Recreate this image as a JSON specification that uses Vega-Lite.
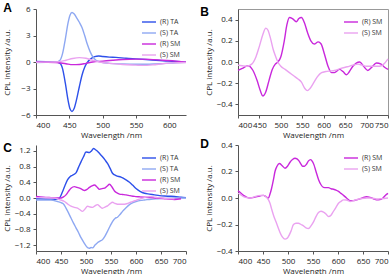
{
  "$schema": "https://vega.github.io/schema/vega-lite/v6.json",
  "background": "white",
  "padding": {"left": 3, "top": 2, "right": 0, "bottom": 1},
  "config": {
    "view": {"stroke": null},
    "axis": {"labelFontSize": 8, "titleFontSize": 8, "labelFont": "Open Sans", "titleFont": "Open Sans", "titleFontWeight": "normal", "domainColor": "#555", "tickColor": "#555", "tickSize": 3, "grid": false, "labelColor": "#222", "titleColor": "#222"},
    "axisX": {"titlePadding": 2, "labelPadding": 3},
    "axisY": {"titlePadding": 3, "labelPadding": 3},
    "legend": {"orient": "top-right", "offset": 5, "labelFontSize": 7, "labelFont": "Open Sans", "labelColor": "#333", "symbolType": "stroke", "symbolSize": 196, "symbolStrokeWidth": 1.5, "rowPadding": -6, "padding": 0, "labelOffset": 3},
    "title": {"anchor": "start", "frame": "bounds", "fontSize": 12, "fontWeight": "bold", "font": "Liberation Sans", "offset": -10, "color": "#000"},
    "line": {"strokeWidth": 1.4, "interpolate": "monotone"}
  },
  "datasets": {
    "A": [
      {"s": "(R) TA", "x": 400, "y": 0.05}, {"s": "(R) TA", "x": 420, "y": 0.02}, {"s": "(R) TA", "x": 430, "y": 0}, {"s": "(R) TA", "x": 436, "y": -0.15}, {"s": "(R) TA", "x": 440, "y": -0.8}, {"s": "(R) TA", "x": 444, "y": -2.4}, {"s": "(R) TA", "x": 448, "y": -4.3}, {"s": "(R) TA", "x": 451, "y": -5.3}, {"s": "(R) TA", "x": 454, "y": -5.6}, {"s": "(R) TA", "x": 457, "y": -5.3}, {"s": "(R) TA", "x": 461, "y": -4.2}, {"s": "(R) TA", "x": 465, "y": -2.8}, {"s": "(R) TA", "x": 469, "y": -1.5}, {"s": "(R) TA", "x": 473, "y": -0.6}, {"s": "(R) TA", "x": 477, "y": -0.05}, {"s": "(R) TA", "x": 482, "y": 0.35}, {"s": "(R) TA", "x": 488, "y": 0.6}, {"s": "(R) TA", "x": 494, "y": 0.68}, {"s": "(R) TA", "x": 500, "y": 0.62}, {"s": "(R) TA", "x": 510, "y": 0.55}, {"s": "(R) TA", "x": 520, "y": 0.52}, {"s": "(R) TA", "x": 535, "y": 0.42}, {"s": "(R) TA", "x": 550, "y": 0.35}, {"s": "(R) TA", "x": 565, "y": 0.28}, {"s": "(R) TA", "x": 580, "y": 0.2}, {"s": "(R) TA", "x": 595, "y": 0.12}, {"s": "(R) TA", "x": 610, "y": 0.05}, {"s": "(R) TA", "x": 625, "y": 0},
      {"s": "(S) TA", "x": 400, "y": -0.05}, {"s": "(S) TA", "x": 420, "y": -0.02}, {"s": "(S) TA", "x": 430, "y": 0}, {"s": "(S) TA", "x": 436, "y": 0.2}, {"s": "(S) TA", "x": 440, "y": 1.0}, {"s": "(S) TA", "x": 444, "y": 2.6}, {"s": "(S) TA", "x": 448, "y": 4.4}, {"s": "(S) TA", "x": 451, "y": 5.3}, {"s": "(S) TA", "x": 454, "y": 5.6}, {"s": "(S) TA", "x": 457, "y": 5.45}, {"s": "(S) TA", "x": 461, "y": 5.0}, {"s": "(S) TA", "x": 465, "y": 4.5}, {"s": "(S) TA", "x": 469, "y": 3.9}, {"s": "(S) TA", "x": 473, "y": 3.0}, {"s": "(S) TA", "x": 477, "y": 2.0}, {"s": "(S) TA", "x": 481, "y": 1.2}, {"s": "(S) TA", "x": 485, "y": 0.6}, {"s": "(S) TA", "x": 490, "y": 0.2}, {"s": "(S) TA", "x": 497, "y": 0}, {"s": "(S) TA", "x": 510, "y": -0.15}, {"s": "(S) TA", "x": 530, "y": -0.22}, {"s": "(S) TA", "x": 550, "y": -0.25}, {"s": "(S) TA", "x": 570, "y": -0.25}, {"s": "(S) TA", "x": 590, "y": -0.18}, {"s": "(S) TA", "x": 610, "y": -0.08}, {"s": "(S) TA", "x": 625, "y": -0.03},
      {"s": "(R) SM", "x": 400, "y": 0}, {"s": "(R) SM", "x": 430, "y": -0.05}, {"s": "(R) SM", "x": 445, "y": -0.2}, {"s": "(R) SM", "x": 455, "y": -0.3}, {"s": "(R) SM", "x": 465, "y": -0.28}, {"s": "(R) SM", "x": 475, "y": -0.15}, {"s": "(R) SM", "x": 485, "y": 0}, {"s": "(R) SM", "x": 500, "y": 0.1}, {"s": "(R) SM", "x": 515, "y": 0.2}, {"s": "(R) SM", "x": 530, "y": 0.28}, {"s": "(R) SM", "x": 550, "y": 0.32}, {"s": "(R) SM", "x": 570, "y": 0.3}, {"s": "(R) SM", "x": 590, "y": 0.2}, {"s": "(R) SM", "x": 610, "y": 0.1}, {"s": "(R) SM", "x": 625, "y": 0},
      {"s": "(S) SM", "x": 400, "y": -0.02}, {"s": "(S) SM", "x": 430, "y": 0}, {"s": "(S) SM", "x": 445, "y": 0.2}, {"s": "(S) SM", "x": 455, "y": 0.4}, {"s": "(S) SM", "x": 465, "y": 0.5}, {"s": "(S) SM", "x": 475, "y": 0.42}, {"s": "(S) SM", "x": 485, "y": 0.2}, {"s": "(S) SM", "x": 495, "y": 0}, {"s": "(S) SM", "x": 510, "y": -0.15}, {"s": "(S) SM", "x": 530, "y": -0.28}, {"s": "(S) SM", "x": 550, "y": -0.35}, {"s": "(S) SM", "x": 560, "y": -0.38}, {"s": "(S) SM", "x": 575, "y": -0.32}, {"s": "(S) SM", "x": 590, "y": -0.2}, {"s": "(S) SM", "x": 605, "y": -0.1}, {"s": "(S) SM", "x": 625, "y": -0.05}
    ],
    "B": [
      {"s": "(R) SM", "x": 400, "y": -0.08}, {"s": "(R) SM", "x": 410, "y": -0.06}, {"s": "(R) SM", "x": 423, "y": -0.035}, {"s": "(R) SM", "x": 435, "y": -0.08}, {"s": "(R) SM", "x": 445, "y": -0.18}, {"s": "(R) SM", "x": 452, "y": -0.27}, {"s": "(R) SM", "x": 458, "y": -0.32}, {"s": "(R) SM", "x": 465, "y": -0.28}, {"s": "(R) SM", "x": 472, "y": -0.18}, {"s": "(R) SM", "x": 480, "y": -0.07}, {"s": "(R) SM", "x": 487, "y": -0.02}, {"s": "(R) SM", "x": 493, "y": 0}, {"s": "(R) SM", "x": 500, "y": 0.05}, {"s": "(R) SM", "x": 508, "y": 0.2}, {"s": "(R) SM", "x": 514, "y": 0.35}, {"s": "(R) SM", "x": 520, "y": 0.42}, {"s": "(R) SM", "x": 527, "y": 0.41}, {"s": "(R) SM", "x": 536, "y": 0.38}, {"s": "(R) SM", "x": 542, "y": 0.41}, {"s": "(R) SM", "x": 548, "y": 0.42}, {"s": "(R) SM", "x": 555, "y": 0.37}, {"s": "(R) SM", "x": 562, "y": 0.28}, {"s": "(R) SM", "x": 570, "y": 0.2}, {"s": "(R) SM", "x": 578, "y": 0.17}, {"s": "(R) SM", "x": 587, "y": 0.19}, {"s": "(R) SM", "x": 594, "y": 0.17}, {"s": "(R) SM", "x": 602, "y": 0.07}, {"s": "(R) SM", "x": 610, "y": -0.04}, {"s": "(R) SM", "x": 618, "y": -0.1}, {"s": "(R) SM", "x": 625, "y": -0.1}, {"s": "(R) SM", "x": 637, "y": -0.07}, {"s": "(R) SM", "x": 645, "y": -0.09}, {"s": "(R) SM", "x": 653, "y": -0.12}, {"s": "(R) SM", "x": 660, "y": -0.09}, {"s": "(R) SM", "x": 668, "y": -0.04}, {"s": "(R) SM", "x": 676, "y": -0.01}, {"s": "(R) SM", "x": 684, "y": 0}, {"s": "(R) SM", "x": 693, "y": -0.04}, {"s": "(R) SM", "x": 703, "y": -0.08}, {"s": "(R) SM", "x": 712, "y": -0.05}, {"s": "(R) SM", "x": 723, "y": -0.01}, {"s": "(R) SM", "x": 734, "y": -0.02}, {"s": "(R) SM", "x": 742, "y": -0.05}, {"s": "(R) SM", "x": 750, "y": -0.07},
      {"s": "(S) SM", "x": 400, "y": -0.03}, {"s": "(S) SM", "x": 410, "y": -0.035}, {"s": "(S) SM", "x": 420, "y": -0.04}, {"s": "(S) SM", "x": 432, "y": -0.02}, {"s": "(S) SM", "x": 442, "y": 0.05}, {"s": "(S) SM", "x": 450, "y": 0.15}, {"s": "(S) SM", "x": 458, "y": 0.26}, {"s": "(S) SM", "x": 465, "y": 0.32}, {"s": "(S) SM", "x": 470, "y": 0.3}, {"s": "(S) SM", "x": 476, "y": 0.22}, {"s": "(S) SM", "x": 482, "y": 0.12}, {"s": "(S) SM", "x": 488, "y": 0.05}, {"s": "(S) SM", "x": 493, "y": 0}, {"s": "(S) SM", "x": 500, "y": -0.04}, {"s": "(S) SM", "x": 510, "y": -0.07}, {"s": "(S) SM", "x": 520, "y": -0.1}, {"s": "(S) SM", "x": 530, "y": -0.13}, {"s": "(S) SM", "x": 540, "y": -0.16}, {"s": "(S) SM", "x": 548, "y": -0.19}, {"s": "(S) SM", "x": 556, "y": -0.25}, {"s": "(S) SM", "x": 562, "y": -0.27}, {"s": "(S) SM", "x": 568, "y": -0.25}, {"s": "(S) SM", "x": 576, "y": -0.2}, {"s": "(S) SM", "x": 585, "y": -0.14}, {"s": "(S) SM", "x": 595, "y": -0.1}, {"s": "(S) SM", "x": 605, "y": -0.09}, {"s": "(S) SM", "x": 615, "y": -0.085}, {"s": "(S) SM", "x": 625, "y": -0.08}, {"s": "(S) SM", "x": 640, "y": -0.06}, {"s": "(S) SM", "x": 655, "y": -0.045}, {"s": "(S) SM", "x": 668, "y": -0.03}, {"s": "(S) SM", "x": 680, "y": -0.02}, {"s": "(S) SM", "x": 690, "y": -0.03}, {"s": "(S) SM", "x": 700, "y": -0.04}, {"s": "(S) SM", "x": 715, "y": -0.04}, {"s": "(S) SM", "x": 730, "y": -0.04}, {"s": "(S) SM", "x": 740, "y": -0.02}, {"s": "(S) SM", "x": 750, "y": 0.03}
    ],
    "C": [
      {"s": "(R) TA", "x": 400, "y": -0.02}, {"s": "(R) TA", "x": 420, "y": -0.03}, {"s": "(R) TA", "x": 440, "y": -0.03}, {"s": "(R) TA", "x": 447, "y": 0}, {"s": "(R) TA", "x": 453, "y": 0.16}, {"s": "(R) TA", "x": 458, "y": 0.32}, {"s": "(R) TA", "x": 463, "y": 0.46}, {"s": "(R) TA", "x": 468, "y": 0.54}, {"s": "(R) TA", "x": 473, "y": 0.58}, {"s": "(R) TA", "x": 480, "y": 0.64}, {"s": "(R) TA", "x": 485, "y": 0.78}, {"s": "(R) TA", "x": 490, "y": 0.92}, {"s": "(R) TA", "x": 495, "y": 1.05}, {"s": "(R) TA", "x": 500, "y": 1.17}, {"s": "(R) TA", "x": 507, "y": 1.16}, {"s": "(R) TA", "x": 511, "y": 1.2}, {"s": "(R) TA", "x": 515, "y": 1.26}, {"s": "(R) TA", "x": 519, "y": 1.23}, {"s": "(R) TA", "x": 523, "y": 1.19}, {"s": "(R) TA", "x": 528, "y": 1.12}, {"s": "(R) TA", "x": 533, "y": 1.05}, {"s": "(R) TA", "x": 538, "y": 0.97}, {"s": "(R) TA", "x": 543, "y": 0.88}, {"s": "(R) TA", "x": 548, "y": 0.76}, {"s": "(R) TA", "x": 553, "y": 0.63}, {"s": "(R) TA", "x": 560, "y": 0.57}, {"s": "(R) TA", "x": 570, "y": 0.53}, {"s": "(R) TA", "x": 580, "y": 0.46}, {"s": "(R) TA", "x": 587, "y": 0.4}, {"s": "(R) TA", "x": 593, "y": 0.33}, {"s": "(R) TA", "x": 600, "y": 0.24}, {"s": "(R) TA", "x": 608, "y": 0.17}, {"s": "(R) TA", "x": 617, "y": 0.12}, {"s": "(R) TA", "x": 627, "y": 0.1}, {"s": "(R) TA", "x": 637, "y": 0.08}, {"s": "(R) TA", "x": 647, "y": 0.06}, {"s": "(R) TA", "x": 657, "y": 0.05}, {"s": "(R) TA", "x": 667, "y": 0.045}, {"s": "(R) TA", "x": 677, "y": 0.04}, {"s": "(R) TA", "x": 690, "y": 0.02}, {"s": "(R) TA", "x": 700, "y": 0.01},
      {"s": "(S) TA", "x": 400, "y": -0.05}, {"s": "(S) TA", "x": 420, "y": -0.05}, {"s": "(S) TA", "x": 430, "y": -0.05}, {"s": "(S) TA", "x": 443, "y": -0.09}, {"s": "(S) TA", "x": 450, "y": -0.12}, {"s": "(S) TA", "x": 455, "y": -0.15}, {"s": "(S) TA", "x": 460, "y": -0.26}, {"s": "(S) TA", "x": 465, "y": -0.38}, {"s": "(S) TA", "x": 470, "y": -0.51}, {"s": "(S) TA", "x": 475, "y": -0.64}, {"s": "(S) TA", "x": 480, "y": -0.76}, {"s": "(S) TA", "x": 485, "y": -0.88}, {"s": "(S) TA", "x": 490, "y": -1.01}, {"s": "(S) TA", "x": 495, "y": -1.12}, {"s": "(S) TA", "x": 500, "y": -1.22}, {"s": "(S) TA", "x": 504, "y": -1.27}, {"s": "(S) TA", "x": 507, "y": -1.28}, {"s": "(S) TA", "x": 510, "y": -1.26}, {"s": "(S) TA", "x": 513, "y": -1.27}, {"s": "(S) TA", "x": 518, "y": -1.2}, {"s": "(S) TA", "x": 523, "y": -1.14}, {"s": "(S) TA", "x": 528, "y": -1.1}, {"s": "(S) TA", "x": 533, "y": -1.06}, {"s": "(S) TA", "x": 538, "y": -0.97}, {"s": "(S) TA", "x": 543, "y": -0.85}, {"s": "(S) TA", "x": 548, "y": -0.72}, {"s": "(S) TA", "x": 553, "y": -0.6}, {"s": "(S) TA", "x": 558, "y": -0.52}, {"s": "(S) TA", "x": 563, "y": -0.49}, {"s": "(S) TA", "x": 568, "y": -0.42}, {"s": "(S) TA", "x": 573, "y": -0.34}, {"s": "(S) TA", "x": 580, "y": -0.25}, {"s": "(S) TA", "x": 587, "y": -0.17}, {"s": "(S) TA", "x": 594, "y": -0.12}, {"s": "(S) TA", "x": 600, "y": -0.09}, {"s": "(S) TA", "x": 610, "y": -0.06}, {"s": "(S) TA", "x": 617, "y": -0.05}, {"s": "(S) TA", "x": 630, "y": -0.03}, {"s": "(S) TA", "x": 643, "y": -0.02}, {"s": "(S) TA", "x": 660, "y": -0.01}, {"s": "(S) TA", "x": 680, "y": 0}, {"s": "(S) TA", "x": 700, "y": 0},
      {"s": "(R) SM", "x": 400, "y": 0.04}, {"s": "(R) SM", "x": 415, "y": 0.02}, {"s": "(R) SM", "x": 430, "y": 0.01}, {"s": "(R) SM", "x": 450, "y": 0}, {"s": "(R) SM", "x": 455, "y": 0.03}, {"s": "(R) SM", "x": 460, "y": 0.08}, {"s": "(R) SM", "x": 465, "y": 0.17}, {"s": "(R) SM", "x": 470, "y": 0.25}, {"s": "(R) SM", "x": 477, "y": 0.29}, {"s": "(R) SM", "x": 482, "y": 0.27}, {"s": "(R) SM", "x": 487, "y": 0.25}, {"s": "(R) SM", "x": 492, "y": 0.22}, {"s": "(R) SM", "x": 497, "y": 0.19}, {"s": "(R) SM", "x": 502, "y": 0.22}, {"s": "(R) SM", "x": 507, "y": 0.27}, {"s": "(R) SM", "x": 512, "y": 0.31}, {"s": "(R) SM", "x": 517, "y": 0.33}, {"s": "(R) SM", "x": 522, "y": 0.28}, {"s": "(R) SM", "x": 527, "y": 0.22}, {"s": "(R) SM", "x": 532, "y": 0.24}, {"s": "(R) SM", "x": 537, "y": 0.25}, {"s": "(R) SM", "x": 542, "y": 0.3}, {"s": "(R) SM", "x": 547, "y": 0.35}, {"s": "(R) SM", "x": 552, "y": 0.28}, {"s": "(R) SM", "x": 557, "y": 0.18}, {"s": "(R) SM", "x": 562, "y": 0.13}, {"s": "(R) SM", "x": 567, "y": 0.1}, {"s": "(R) SM", "x": 573, "y": 0.09}, {"s": "(R) SM", "x": 580, "y": 0.08}, {"s": "(R) SM", "x": 588, "y": 0.06}, {"s": "(R) SM", "x": 597, "y": 0.04}, {"s": "(R) SM", "x": 607, "y": 0.03}, {"s": "(R) SM", "x": 617, "y": 0.02}, {"s": "(R) SM", "x": 630, "y": 0.01}, {"s": "(R) SM", "x": 643, "y": 0}, {"s": "(R) SM", "x": 660, "y": -0.02}, {"s": "(R) SM", "x": 677, "y": -0.04}, {"s": "(R) SM", "x": 690, "y": -0.02},
      {"s": "(S) SM", "x": 400, "y": 0.01}, {"s": "(S) SM", "x": 420, "y": 0.01}, {"s": "(S) SM", "x": 437, "y": 0}, {"s": "(S) SM", "x": 447, "y": -0.04}, {"s": "(S) SM", "x": 457, "y": -0.09}, {"s": "(S) SM", "x": 463, "y": -0.15}, {"s": "(S) SM", "x": 470, "y": -0.21}, {"s": "(S) SM", "x": 477, "y": -0.24}, {"s": "(S) SM", "x": 483, "y": -0.26}, {"s": "(S) SM", "x": 488, "y": -0.3}, {"s": "(S) SM", "x": 493, "y": -0.34}, {"s": "(S) SM", "x": 498, "y": -0.28}, {"s": "(S) SM", "x": 503, "y": -0.21}, {"s": "(S) SM", "x": 508, "y": -0.23}, {"s": "(S) SM", "x": 513, "y": -0.24}, {"s": "(S) SM", "x": 518, "y": -0.2}, {"s": "(S) SM", "x": 523, "y": -0.17}, {"s": "(S) SM", "x": 528, "y": -0.22}, {"s": "(S) SM", "x": 533, "y": -0.26}, {"s": "(S) SM", "x": 538, "y": -0.23}, {"s": "(S) SM", "x": 543, "y": -0.2}, {"s": "(S) SM", "x": 548, "y": -0.15}, {"s": "(S) SM", "x": 553, "y": -0.11}, {"s": "(S) SM", "x": 558, "y": -0.14}, {"s": "(S) SM", "x": 563, "y": -0.16}, {"s": "(S) SM", "x": 570, "y": -0.16}, {"s": "(S) SM", "x": 577, "y": -0.16}, {"s": "(S) SM", "x": 585, "y": -0.13}, {"s": "(S) SM", "x": 593, "y": -0.09}, {"s": "(S) SM", "x": 600, "y": -0.06}, {"s": "(S) SM", "x": 607, "y": -0.03}, {"s": "(S) SM", "x": 617, "y": 0.01}, {"s": "(S) SM", "x": 627, "y": 0.04}, {"s": "(S) SM", "x": 635, "y": 0.03}, {"s": "(S) SM", "x": 643, "y": 0.01}, {"s": "(S) SM", "x": 660, "y": -0.01}, {"s": "(S) SM", "x": 677, "y": -0.02}
    ],
    "D": [
      {"s": "(R) SM", "x": 400, "y": 0.054}, {"s": "(R) SM", "x": 405, "y": 0.04}, {"s": "(R) SM", "x": 411, "y": 0.02}, {"s": "(R) SM", "x": 418, "y": 0.005}, {"s": "(R) SM", "x": 424, "y": 0}, {"s": "(R) SM", "x": 432, "y": 0.005}, {"s": "(R) SM", "x": 441, "y": 0.012}, {"s": "(R) SM", "x": 446, "y": 0.018}, {"s": "(R) SM", "x": 451, "y": 0.02}, {"s": "(R) SM", "x": 456, "y": 0.01}, {"s": "(R) SM", "x": 461, "y": 0.0}, {"s": "(R) SM", "x": 464, "y": 0.03}, {"s": "(R) SM", "x": 467, "y": 0.07}, {"s": "(R) SM", "x": 471, "y": 0.14}, {"s": "(R) SM", "x": 474, "y": 0.2}, {"s": "(R) SM", "x": 478, "y": 0.24}, {"s": "(R) SM", "x": 483, "y": 0.26}, {"s": "(R) SM", "x": 488, "y": 0.245}, {"s": "(R) SM", "x": 494, "y": 0.225}, {"s": "(R) SM", "x": 499, "y": 0.24}, {"s": "(R) SM", "x": 504, "y": 0.27}, {"s": "(R) SM", "x": 509, "y": 0.29}, {"s": "(R) SM", "x": 514, "y": 0.3}, {"s": "(R) SM", "x": 518, "y": 0.295}, {"s": "(R) SM", "x": 522, "y": 0.28}, {"s": "(R) SM", "x": 526, "y": 0.255}, {"s": "(R) SM", "x": 529, "y": 0.24}, {"s": "(R) SM", "x": 533, "y": 0.24}, {"s": "(R) SM", "x": 537, "y": 0.255}, {"s": "(R) SM", "x": 541, "y": 0.28}, {"s": "(R) SM", "x": 545, "y": 0.29}, {"s": "(R) SM", "x": 549, "y": 0.275}, {"s": "(R) SM", "x": 552, "y": 0.25}, {"s": "(R) SM", "x": 556, "y": 0.2}, {"s": "(R) SM", "x": 561, "y": 0.14}, {"s": "(R) SM", "x": 566, "y": 0.1}, {"s": "(R) SM", "x": 571, "y": 0.08}, {"s": "(R) SM", "x": 576, "y": 0.078}, {"s": "(R) SM", "x": 581, "y": 0.078}, {"s": "(R) SM", "x": 586, "y": 0.07}, {"s": "(R) SM", "x": 591, "y": 0.066}, {"s": "(R) SM", "x": 596, "y": 0.06}, {"s": "(R) SM", "x": 601, "y": 0.05}, {"s": "(R) SM", "x": 606, "y": 0.035}, {"s": "(R) SM", "x": 611, "y": 0.02}, {"s": "(R) SM", "x": 617, "y": 0.0}, {"s": "(R) SM", "x": 624, "y": -0.02}, {"s": "(R) SM", "x": 631, "y": -0.02}, {"s": "(R) SM", "x": 637, "y": -0.014}, {"s": "(R) SM", "x": 645, "y": -0.005}, {"s": "(R) SM", "x": 651, "y": 0.005}, {"s": "(R) SM", "x": 657, "y": 0.01}, {"s": "(R) SM", "x": 664, "y": 0.005}, {"s": "(R) SM", "x": 671, "y": -0.006}, {"s": "(R) SM", "x": 677, "y": -0.014}, {"s": "(R) SM", "x": 684, "y": -0.012}, {"s": "(R) SM", "x": 690, "y": 0.0}, {"s": "(R) SM", "x": 695, "y": 0.02}, {"s": "(R) SM", "x": 700, "y": 0.035},
      {"s": "(S) SM", "x": 400, "y": 0.036}, {"s": "(S) SM", "x": 405, "y": 0.025}, {"s": "(S) SM", "x": 411, "y": 0.01}, {"s": "(S) SM", "x": 418, "y": 0.003}, {"s": "(S) SM", "x": 424, "y": 0}, {"s": "(S) SM", "x": 432, "y": 0.008}, {"s": "(S) SM", "x": 441, "y": 0.018}, {"s": "(S) SM", "x": 446, "y": 0.02}, {"s": "(S) SM", "x": 451, "y": 0.02}, {"s": "(S) SM", "x": 456, "y": 0.01}, {"s": "(S) SM", "x": 461, "y": -0.014}, {"s": "(S) SM", "x": 464, "y": -0.04}, {"s": "(S) SM", "x": 467, "y": -0.08}, {"s": "(S) SM", "x": 471, "y": -0.13}, {"s": "(S) SM", "x": 476, "y": -0.18}, {"s": "(S) SM", "x": 480, "y": -0.22}, {"s": "(S) SM", "x": 484, "y": -0.26}, {"s": "(S) SM", "x": 489, "y": -0.295}, {"s": "(S) SM", "x": 494, "y": -0.31}, {"s": "(S) SM", "x": 498, "y": -0.305}, {"s": "(S) SM", "x": 501, "y": -0.29}, {"s": "(S) SM", "x": 506, "y": -0.25}, {"s": "(S) SM", "x": 511, "y": -0.2}, {"s": "(S) SM", "x": 516, "y": -0.19}, {"s": "(S) SM", "x": 521, "y": -0.19}, {"s": "(S) SM", "x": 526, "y": -0.2}, {"s": "(S) SM", "x": 531, "y": -0.21}, {"s": "(S) SM", "x": 536, "y": -0.225}, {"s": "(S) SM", "x": 541, "y": -0.23}, {"s": "(S) SM", "x": 546, "y": -0.21}, {"s": "(S) SM", "x": 551, "y": -0.18}, {"s": "(S) SM", "x": 556, "y": -0.14}, {"s": "(S) SM", "x": 561, "y": -0.11}, {"s": "(S) SM", "x": 566, "y": -0.1}, {"s": "(S) SM", "x": 571, "y": -0.106}, {"s": "(S) SM", "x": 576, "y": -0.12}, {"s": "(S) SM", "x": 581, "y": -0.14}, {"s": "(S) SM", "x": 586, "y": -0.13}, {"s": "(S) SM", "x": 591, "y": -0.1}, {"s": "(S) SM", "x": 596, "y": -0.07}, {"s": "(S) SM", "x": 601, "y": -0.04}, {"s": "(S) SM", "x": 606, "y": -0.025}, {"s": "(S) SM", "x": 611, "y": -0.014}, {"s": "(S) SM", "x": 617, "y": -0.015}, {"s": "(S) SM", "x": 624, "y": -0.026}, {"s": "(S) SM", "x": 631, "y": -0.02}, {"s": "(S) SM", "x": 637, "y": -0.012}, {"s": "(S) SM", "x": 644, "y": -0.006}, {"s": "(S) SM", "x": 652, "y": -0.002}, {"s": "(S) SM", "x": 658, "y": 0.0}, {"s": "(S) SM", "x": 664, "y": 0.0}, {"s": "(S) SM", "x": 672, "y": -0.004}, {"s": "(S) SM", "x": 679, "y": -0.008}, {"s": "(S) SM", "x": 684, "y": -0.006}, {"s": "(S) SM", "x": 692, "y": -0.004}, {"s": "(S) SM", "x": 700, "y": 0.0}
    ]
  },
  "columns": 2,
  "spacing": {"row": -2, "column": 10},
  "resolve": {"scale": {"color": "independent", "x": "independent", "y": "independent"}, "legend": {"color": "independent"}},
  "concat": [
    {
      "width": 150, "height": 106,
      "title": {"text": "A"},
      "data": {"name": "A"},
      "mark": {"type": "line"},
      "encoding": {
        "x": {"field": "x", "type": "quantitative", "scale": {"domain": [400, 625], "nice": false, "zero": false}, "axis": {"title": "Wavelength /nm", "values": [400, 450, 500, 550, 600]}},
        "y": {"field": "y", "type": "quantitative", "scale": {"domain": [-6, 6], "nice": false}, "axis": {"title": "CPL intensity /a.u.", "values": [-6, -3, 0, 3, 6], "titlePadding": 9.5}},
        "color": {"field": "s", "type": "nominal", "scale": {"domain": ["(R) TA", "(S) TA", "(R) SM", "(S) SM"], "range": ["#2d50ea", "#8ea8f2", "#c928dc", "#eaa2f0"]}, "legend": {"title": null}}
      }
    },
    {
      "width": 150, "height": 106,
      "title": {"text": "B", "dx": -5},
      "view": {"stroke": "#999"},
      "data": {"name": "B"},
      "mark": {"type": "line"},
      "encoding": {
        "x": {"field": "x", "type": "quantitative", "scale": {"domain": [400, 750], "nice": false, "zero": false}, "axis": {"title": "Wavelength /nm", "values": [400, 450, 500, 550, 600, 650, 700, 750]}},
        "y": {"field": "y", "type": "quantitative", "scale": {"domain": [-0.5, 0.5], "nice": false}, "axis": {"title": "CPL intensity /a.u.", "values": [-0.4, -0.2, 0, 0.2, 0.4], "format": ".1f"}},
        "color": {"field": "s", "type": "nominal", "scale": {"domain": ["(R) SM", "(S) SM"], "range": ["#c928dc", "#eaa2f0"]}, "legend": {"title": null}}
      }
    },
    {
      "width": 150, "height": 106,
      "title": {"text": "C"},
      "data": {"name": "C"},
      "mark": {"type": "line"},
      "encoding": {
        "x": {"field": "x", "type": "quantitative", "scale": {"domain": [400, 700], "nice": false, "zero": false}, "axis": {"title": "Wavelength /nm", "values": [400, 450, 500, 550, 600, 650, 700]}},
        "y": {"field": "y", "type": "quantitative", "scale": {"domain": [-1.35, 1.35], "nice": false}, "axis": {"title": "CPL intensity /a.u.", "values": [-1.2, -0.8, -0.4, 0, 0.4, 0.8, 1.2], "format": ".1f"}},
        "color": {"field": "s", "type": "nominal", "scale": {"domain": ["(R) TA", "(S) TA", "(R) SM", "(S) SM"], "range": ["#2d50ea", "#8ea8f2", "#c928dc", "#eaa2f0"]}, "legend": {"title": null}}
      }
    },
    {
      "width": 150, "height": 106,
      "title": {"text": "D", "dx": -5},
      "data": {"name": "D"},
      "mark": {"type": "line"},
      "encoding": {
        "x": {"field": "x", "type": "quantitative", "scale": {"domain": [400, 700], "nice": false, "zero": false}, "axis": {"title": "Wavelength /nm", "values": [400, 450, 500, 550, 600, 650, 700]}},
        "y": {"field": "y", "type": "quantitative", "scale": {"domain": [-0.4, 0.4], "nice": false}, "axis": {"title": "CPL intensity /a.u.", "values": [-0.4, -0.2, 0, 0.2, 0.4], "format": ".1f"}},
        "color": {"field": "s", "type": "nominal", "scale": {"domain": ["(R) SM", "(S) SM"], "range": ["#c928dc", "#eaa2f0"]}, "legend": {"title": null}}
      }
    }
  ]
}
